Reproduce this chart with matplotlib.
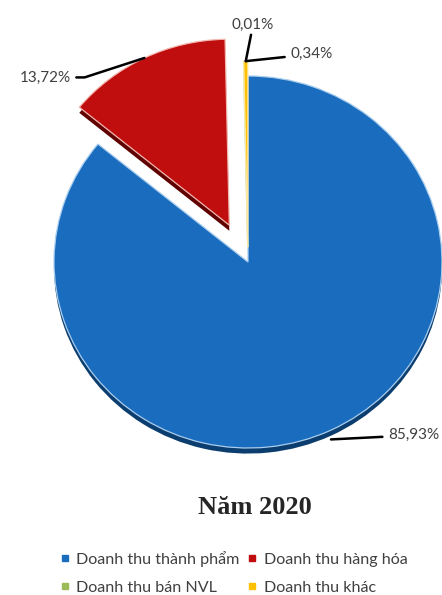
import matplotlib.pyplot as plt
import numpy as np
from matplotlib.lines import Line2D

# Revenue structure, year 2020 (%)
categories = ["Doanh thu thành phẩm", "Doanh thu hàng hóa",
              "Doanh thu bán NVL", "Doanh thu khác"]
shares = [85.93, 13.72, 0.01, 0.34]
labels = ["85,93%", "13,72%", "0,01%", "0,34%"]
title = "Năm 2020"

colors = ["#1A6DBE", "#C00D0D", "#9BBB59", "#FFC000"]
side_colors = ["#0B3D6E", "#600000", "#5A7030", "#A07800"]
edge_colors = ["#A9CDEE", "#F2B8B0", "#DDEBC8", "#FFE9A0"]
explode = [0.0, 0.22, 0.08, 0.08]

fig = plt.figure(figsize=(4.42, 5.95), dpi=100)
ax = fig.add_axes([0, 0, 1, 1])

# scale: one radius = 194 px across, 186 px down (tilted pie)
xlim = (-248 / 194, (442 - 248) / 194)
ylim = (-(595 - 262) / 186, 262 / 186)

# side of the slab, drawn a little lower first
depth = 0.03
ax.pie(shares, colors=side_colors, explode=explode, startangle=90,
       counterclock=False, center=(0, -depth), radius=1.0, frame=True,
       wedgeprops=dict(linewidth=0))
wedges, _ = ax.pie(shares, colors=colors, explode=explode, startangle=90,
                   counterclock=False, center=(0, 0), radius=1.0, frame=True,
                   wedgeprops=dict(linewidth=0.9))
for w, ec in zip(wedges, edge_colors):
    w.set_edgecolor(ec)
ax.axis("off")
ax.set_aspect("auto")
ax.set_xlim(*xlim)
ax.set_ylim(*ylim)


def outer_point(i, r=1.0, drop=0.0):
    w = wedges[i]
    mid = np.deg2rad((w.theta1 + w.theta2) / 2)
    cx, cy = w.center
    return cx + r * np.cos(mid), cy + r * np.sin(mid) - drop


lab_font = dict(family="Lato", size=11, color="#404040")
line_kw = dict(arrowstyle="-", color="black", lw=1.8, shrinkA=0, shrinkB=0)

# 85,93% (leader meets the lower rim)
ax.annotate(labels[0], xy=outer_point(0, 1.0, drop=depth + 0.02), xytext=(41, 3),
            textcoords="offset points", ha="left", va="center",
            arrowprops=dict(line_kw, shrinkA=2), **lab_font)
# 13,72%
ax.annotate(labels[1], xy=outer_point(1), xytext=(-53, -14),
            textcoords="offset points", ha="right", va="center",
            arrowprops=dict(line_kw, connectionstyle="angle,angleA=0,angleB=18,rad=0",
                            shrinkA=2),
            **lab_font)
# 0,01%
ax.annotate(labels[2], xy=outer_point(3), xytext=(-10, 21),
            textcoords="offset points", ha="left", va="bottom",
            arrowprops=line_kw, **lab_font)
# 0,34%
ax.annotate(labels[3], xy=outer_point(3), xytext=(32, 5),
            textcoords="offset points", ha="left", va="center",
            arrowprops=dict(line_kw, shrinkA=2), **lab_font)

fig.text(255 / 442, 1 - 508 / 595, title, ha="center", va="center",
         family="Liberation Serif", weight="bold", size=19, color="#262626")

# legend filled row by row (matplotlib fills by column)
order = [0, 2, 1, 3]
handles = [Line2D([], [], marker="s", ls="", markersize=4, color=colors[i]) for i in order]
fig.legend(handles, [categories[i] for i in order], ncol=2, loc="center left",
           bbox_to_anchor=(52 / 442, 1 - 573 / 595), frameon=False,
           prop=dict(family="Lato", size=11.6), labelcolor="#404040",
           handlelength=0.6, handletextpad=0.4, columnspacing=0.5,
           labelspacing=0.85, borderpad=0)

fig.savefig("out.png", dpi=100)
